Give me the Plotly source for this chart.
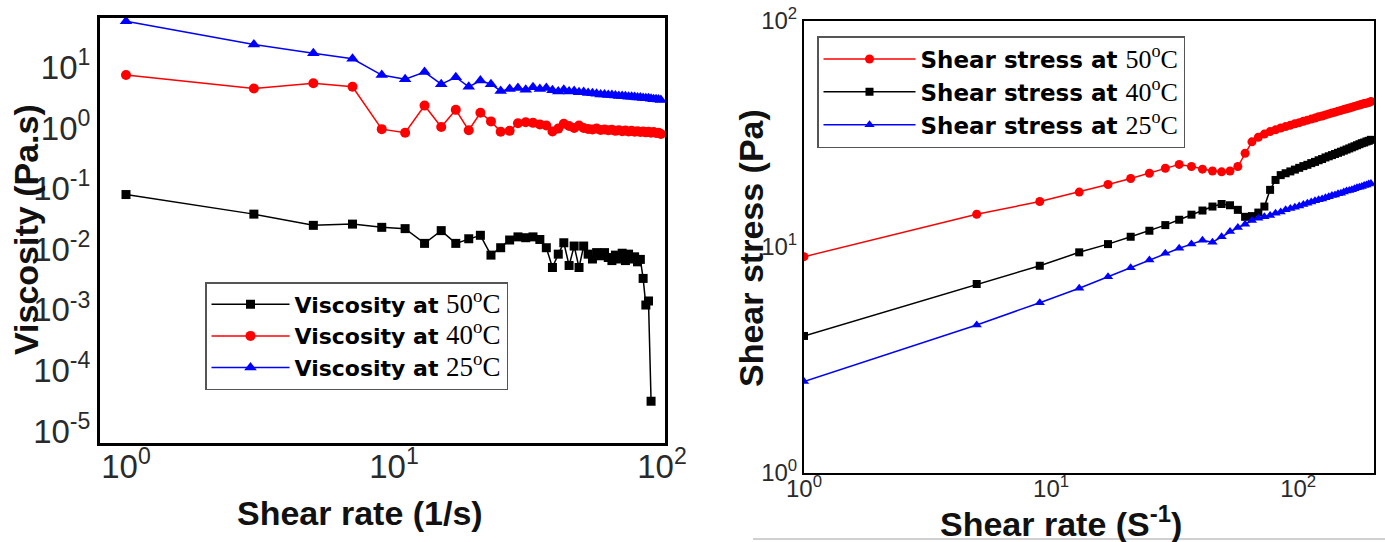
import plotly.graph_objects as go

# ---------------- data: left panel (viscosity) ----------------
visc_rate = [1, 3, 5, 7, 9, 11, 13, 15, 17, 19, 21, 23, 25, 27, 29, 31, 33, 35, 37, 39,
             41, 43, 45, 47, 49, 51, 53, 55, 57, 59, 61, 63, 65, 67, 69, 71, 73, 75, 77, 79,
             81, 83, 85, 87, 89, 91, 93, 95, 97, 99]

visc_50 = [0.080, 0.038, 0.0248, 0.026, 0.023, 0.0219, 0.0125, 0.0203, 0.0125, 0.0149,
           0.017, 0.0080, 0.0106, 0.0142, 0.016, 0.0155, 0.016, 0.0145, 0.0106, 0.0050,
           0.0083, 0.0128, 0.0054, 0.0113, 0.0050, 0.0113, 0.0083, 0.0069, 0.0088, 0.0078,
           0.0088, 0.0073, 0.0065, 0.0080, 0.0069, 0.0086, 0.0065, 0.0083, 0.0069, 0.0075,
           0.0062, 0.0068, 0.0033, 0.0012, 0.0014, 0.000031]

visc_40 = [7.5, 4.5, 5.5, 4.8, 0.96, 0.84, 2.35, 1.04, 2.0, 0.92,
           1.79, 1.29, 0.87, 0.90, 1.20, 1.25, 1.22, 1.15, 1.10, 0.88,
           0.98, 1.18, 1.08, 1.00, 1.10, 1.00, 0.97, 0.95, 0.98, 0.93,
           0.95, 0.92, 0.94, 0.90, 0.92, 0.89, 0.91, 0.88, 0.90, 0.87,
           0.89, 0.86, 0.88, 0.85, 0.87, 0.84, 0.86, 0.83, 0.84, 0.80]

visc_25 = [58, 24, 17.2, 13.9, 7.5, 6.4, 8.4, 5.3, 6.9, 4.8,
           6.1, 5.3, 4.1, 4.4, 4.6, 4.3, 4.7, 4.4, 4.6, 4.2,
           4.0, 4.3, 4.0, 4.1, 3.9, 3.95, 3.8, 3.75, 3.7, 3.6,
           3.6, 3.5, 3.5, 3.45, 3.4, 3.4, 3.35, 3.3, 3.3, 3.25,
           3.2, 3.2, 3.15, 3.1, 3.1, 3.05, 3.0, 3.0, 2.95, 2.9]

# ---------------- data: right panel (shear stress) ----------------
stress_rate = [1, 5, 9, 13, 17, 21, 25, 29, 33, 37, 41, 45, 49, 53, 57, 61, 65, 69, 73, 77,
               81, 85, 89, 93, 97, 101, 105, 109, 113, 117, 121, 125, 129, 133, 137, 141,
               145, 149, 153, 157, 161, 165, 169, 173, 177, 181, 185, 189, 193, 197]

stress_50 = [9.06, 13.96, 15.9, 17.5, 18.9, 20.1, 21.2, 22.3, 23.2, 22.7,
             22.1, 21.7, 21.5, 21.7, 22.7, 26.0, 29.2, 30.6, 31.6, 32.4,
             33.0, 33.6, 34.1, 34.6, 35.1, 35.5, 36.0, 36.4, 36.8, 37.2,
             37.7, 38.0, 38.4, 38.8, 39.2, 39.5, 39.9, 40.2, 40.6, 40.9,
             41.2, 41.5, 41.9, 42.2, 42.5, 42.8, 43.1, 43.3, 43.6, 44.0]

stress_40 = [4.04, 6.86, 8.26, 9.47, 10.3, 11.1, 11.8, 12.5, 13.2, 13.9,
             14.5, 15.1, 15.5, 15.3, 14.6, 13.6, 13.7, 14.2, 15.1, 17.9,
             19.8, 20.8, 21.2, 21.6, 22.0, 22.4, 22.8, 23.1, 23.5, 23.8,
             24.2, 24.5, 24.9, 25.2, 25.5, 25.8, 26.1, 26.4, 26.7, 27.0,
             27.3, 27.6, 27.9, 28.2, 28.5, 28.8, 29.0, 29.3, 29.5, 29.8]

stress_25 = [2.54, 4.52, 5.67, 6.57, 7.39, 8.1, 8.75, 9.38, 9.87, 10.3,
             10.7, 10.5, 11.1, 11.7, 12.2, 12.6, 13.1, 13.4, 13.6, 13.8,
             14.1, 14.3, 14.6, 14.8, 15.0, 15.2, 15.4, 15.6, 15.8, 16.0,
             16.2, 16.3, 16.5, 16.7, 16.9, 17.0, 17.2, 17.3, 17.5, 17.7,
             17.8, 17.9, 18.1, 18.3, 18.4, 18.5, 18.7, 18.8, 19.0, 19.1]

left_yticks = [1e1, 1e0, 1e-1, 1e-2, 1e-3, 1e-4, 1e-5]
left_yticktext = ["10<sup>1</sup>", "10<sup>0</sup>", "10<sup>-1</sup>", "10<sup>-2</sup>",
                  "10<sup>-3</sup>", "10<sup>-4</sup>", "10<sup>-5</sup>"]
decade_ticks = [1, 10, 100]
decade_text = ["10<sup>0</sup>", "10<sup>1</sup>", "10<sup>2</sup>"]

W, H = 1385, 542


def px(x):
    return x / W


def py(y):
    return 1 - y / H


SERIF = "Liberation Serif"


def leg_label(prefix, temp, size):
    return (prefix + "<span style='font-family:" + SERIF
            + ";font-weight:normal;font-size:" + str(size) + "px'>"
            + temp + "<sup>o</sup>C</span>")


fig = go.Figure()

# left panel traces
fig.add_trace(go.Scatter(x=visc_rate[:len(visc_50)], y=visc_50, mode="lines+markers",
                         name=leg_label("Viscosity at ", "50", 27),
                         line=dict(color="black", width=1.5),
                         marker=dict(symbol="square", size=9, color="black"),
                         xaxis="x", yaxis="y", legend="legend"))
fig.add_trace(go.Scatter(x=visc_rate, y=visc_40, mode="lines+markers",
                         name=leg_label("Viscosity at ", "40", 27),
                         line=dict(color="#ff0000", width=1.5),
                         marker=dict(symbol="circle", size=10, color="#ff0000"),
                         xaxis="x", yaxis="y", legend="legend"))
fig.add_trace(go.Scatter(x=visc_rate, y=visc_25, mode="lines+markers",
                         name=leg_label("Viscosity at ", "25", 27),
                         line=dict(color="#0000ff", width=1.5),
                         marker=dict(symbol="triangle-up", size=11, color="#0000ff"),
                         xaxis="x", yaxis="y", legend="legend"))

# right panel traces
fig.add_trace(go.Scatter(x=stress_rate, y=stress_50, mode="lines+markers",
                         name=leg_label("Shear stress at ", "50", 26),
                         line=dict(color="#ff0000", width=1.5),
                         marker=dict(symbol="circle", size=9, color="#ff0000"),
                         xaxis="x2", yaxis="y2", legend="legend2"))
fig.add_trace(go.Scatter(x=stress_rate, y=stress_40, mode="lines+markers",
                         name=leg_label("Shear stress at ", "40", 26),
                         line=dict(color="black", width=1.5),
                         marker=dict(symbol="square", size=8, color="black"),
                         xaxis="x2", yaxis="y2", legend="legend2"))
fig.add_trace(go.Scatter(x=stress_rate, y=stress_25, mode="lines+markers",
                         name=leg_label("Shear stress at ", "25", 26),
                         line=dict(color="#0000ff", width=1.5),
                         marker=dict(symbol="triangle-up", size=9, color="#0000ff"),
                         xaxis="x2", yaxis="y2", legend="legend2"))

tick_font_left = dict(family="Liberation Sans", size=33, color="#2a2a2a")
tick_font_right = dict(family="Liberation Sans", size=24, color="#2a2a2a")

axis_common = dict(type="log", showgrid=False, zeroline=False, ticks="",
                   showline=True, mirror=True, linecolor="black", automargin=False)

fig.update_layout(
    width=W, height=H,
    margin=dict(l=0, r=0, t=0, b=0, autoexpand=False),
    paper_bgcolor="white", plot_bgcolor="white",
    xaxis=dict(axis_common, domain=[px(100), px(665)], range=[-0.097, 2.011],
               tickvals=decade_ticks, ticktext=decade_text, tickfont=tick_font_left,
               linewidth=3, anchor="y", ticklabelstandoff=-8),
    yaxis=dict(axis_common, domain=[py(443), py(18)], range=[-5.198, 1.817],
               tickvals=left_yticks, ticktext=left_yticktext, tickfont=tick_font_left,
               linewidth=3, anchor="x"),
    xaxis2=dict(axis_common, domain=[px(804), px(1374)], range=[0, 2.307],
                tickvals=decade_ticks, ticktext=decade_text, tickfont=tick_font_right,
                linewidth=2, anchor="y2", ticklabelstandoff=-7),
    yaxis2=dict(axis_common, domain=[py(473), py(21)], range=[0, 2],
                tickvals=decade_ticks, ticktext=decade_text, tickfont=tick_font_right,
                linewidth=2, anchor="x2"),
    legend=dict(x=px(205), y=py(282), xanchor="left", yanchor="top",
                bgcolor="white", bordercolor="#555555", borderwidth=1.5,
                font=dict(family="DejaVu Sans", size=22, color="black", weight="bold"),
                itemwidth=78, tracegroupgap=0),
    legend2=dict(x=px(817), y=py(36), xanchor="left", yanchor="top",
                 bgcolor="white", bordercolor="#555555", borderwidth=1.5,
                 font=dict(family="DejaVu Sans", size=23, color="black", weight="bold"),
                 itemwidth=92, tracegroupgap=0),
    showlegend=True,
)

title_font = dict(family="Liberation Sans", size=34, color="#111111", weight="bold")
fig.add_annotation(text="Viscosity (Pa.s)", x=px(26), y=py(230), xref="paper", yref="paper",
                   textangle=-90, showarrow=False, font=title_font,
                   xanchor="center", yanchor="middle")
fig.add_annotation(text="Shear rate (1/s)", x=px(360), y=py(513), xref="paper", yref="paper",
                   showarrow=False, font=title_font, xanchor="center", yanchor="middle")
title_font2 = dict(family="Liberation Sans", size=34, color="#111111", weight="bold")
fig.add_annotation(text="Shear stress (Pa)", x=px(751), y=py(248), xref="paper", yref="paper",
                   textangle=-90, showarrow=False, font=title_font2,
                   xanchor="center", yanchor="middle")
fig.add_annotation(text="Shear rate (S<sup>-1</sup>)", x=px(1061), y=py(521), xref="paper",
                   yref="paper", showarrow=False, font=title_font2,
                   xanchor="center", yanchor="middle")

fig.add_shape(type="line", xref="paper", yref="paper", x0=px(753), x1=1, y0=py(539), y1=py(539),
              line=dict(color="#d0d0d0", width=2))

fig.write_html(
    "out.html",
    config={"displayModeBar": False},
    post_script="document.body.style.margin='0';document.body.style.overflow='hidden';",
)
